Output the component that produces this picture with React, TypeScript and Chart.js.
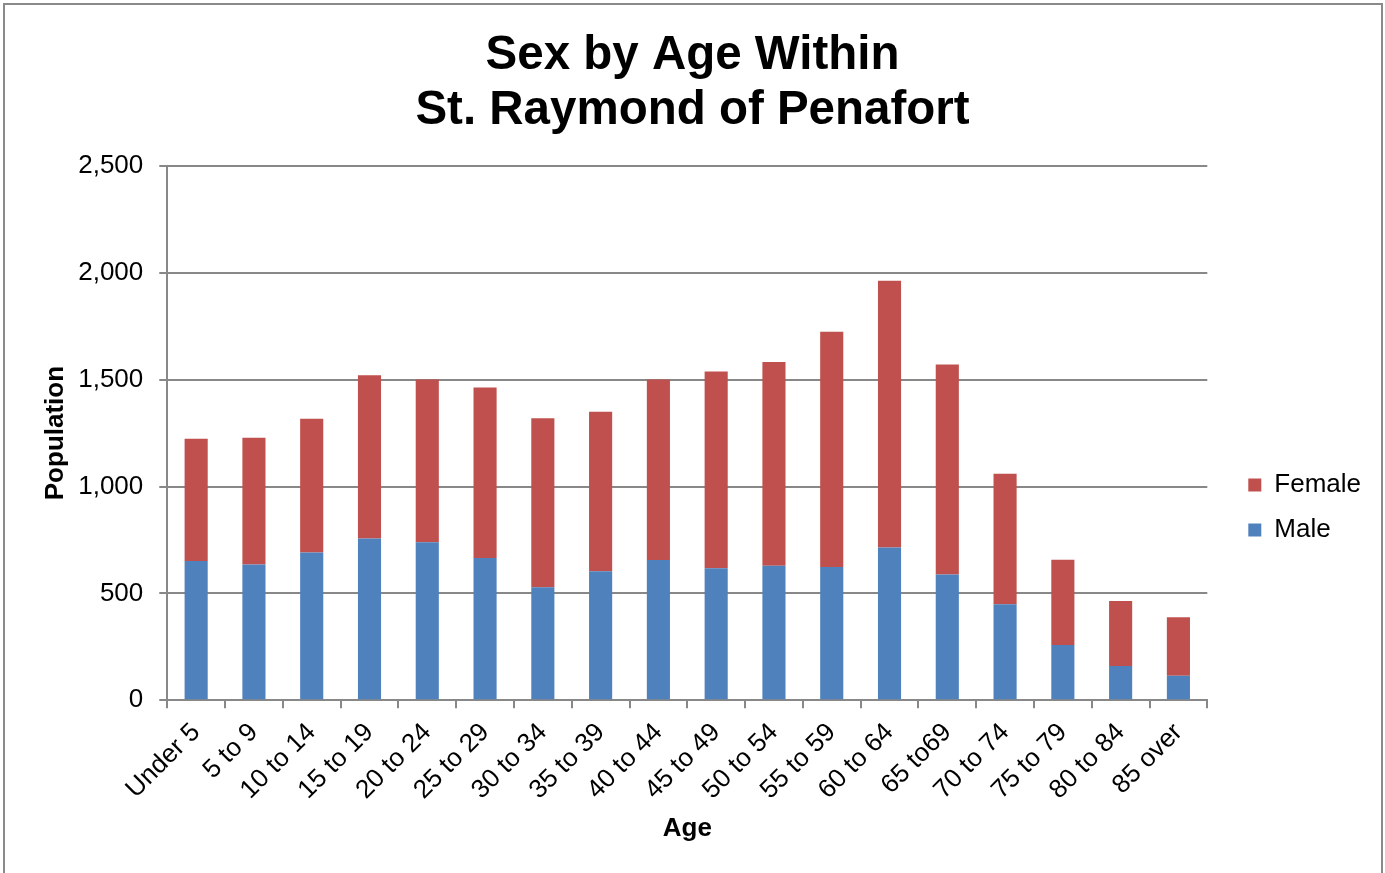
import React, { useEffect, useRef } from "react";
import { Chart, registerables } from "chart.js";

Chart.register(...registerables);

const categories = [
  "Under 5", "5 to 9", "10 to 14", "15 to 19", "20 to 24", "25 to 29",
  "30 to 34", "35 to 39", "40 to 44", "45 to 49", "50 to 54", "55 to 59",
  "60 to 64", "65 to69", "70 to 74", "75 to 79", "80 to 84", "85 over",
];
const maleValues = [651, 635, 691, 757, 739, 666, 529, 604, 656, 618, 629, 623, 715, 588, 449, 259, 160, 115];
const femaleValues = [572, 593, 626, 764, 762, 797, 790, 746, 845, 920, 953, 1101, 1247, 983, 611, 398, 304, 274];
const titleLines = ["Sex by Age Within", "St. Raymond of Penafort"];
const yTitle = "Population";
const xTitle = "Age";

const FONT = "'Liberation Sans', Arial, Helvetica, sans-serif";
const GRID = "#888888";

function spacer(width: number, weight: number) {
  return {
    type: "linear",
    position: "right",
    display: true,
    weight,
    grid: { display: false, drawTicks: false },
    border: { display: false },
    ticks: { display: false },
    title: { display: false },
    afterFit: (s: any) => {
      s.width = width;
    },
  } as any;
}

export default function App() {
  const canvasRef = useRef<HTMLCanvasElement | null>(null);

  useEffect(() => {
    if (!canvasRef.current) return;
    Chart.defaults.font.family = FONT;
    Chart.defaults.color = "#000";
    const chart = new Chart(canvasRef.current, {
      type: "bar",
      data: {
        labels: categories,
        datasets: [
          {
            label: "Male",
            data: maleValues,
            backgroundColor: "#4F81BD",
            borderWidth: 0,
            barPercentage: 0.4,
            categoryPercentage: 1,
          },
          {
            label: "Female",
            data: femaleValues,
            backgroundColor: "#C0504D",
            borderWidth: 0,
            barPercentage: 0.4,
            categoryPercentage: 1,
          },
        ],
      },
      options: {
        animation: false,
        responsive: false,
        layout: { padding: { left: 0, right: 0, top: 0, bottom: 0 } },
        plugins: {
          title: {
            display: true,
            text: titleLines,
            color: "#000",
            font: { size: 47.5, weight: "bold", family: FONT, lineHeight: 1.15 },
            padding: { top: 29, bottom: 27.6 },
          },
          legend: {
            display: true,
            position: "right",
            reverse: true,
            title: {
              display: true,
              text: " ",
              font: { size: 12, lineHeight: 1 },
              padding: { top: 130, bottom: 0 },
            },
            labels: {
              boxWidth: 13,
              boxHeight: 13,
              padding: 19,
              color: "#000",
              font: { size: 26, family: FONT },
            },
          },
          tooltip: { enabled: false },
        },
        scales: {
          x: {
            stacked: true,
            grid: {
              display: true,
              drawOnChartArea: false,
              drawTicks: true,
              tickLength: 8,
              color: GRID,
              lineWidth: 2,
            },
            border: { display: true, color: GRID, width: 2 },
            ticks: {
              autoSkip: false,
              minRotation: 45,
              maxRotation: 45,
              padding: 9,
              color: "#000",
              font: { size: 26, family: FONT },
            },
            title: {
              display: true,
              text: xTitle,
              color: "#000",
              font: { size: 26, weight: "bold", family: FONT, lineHeight: 1.2 },
              padding: { top: -2, bottom: 29 },
            },
          },
          y: {
            stacked: true,
            min: 0,
            max: 2500,
            ticks: {
              stepSize: 500,
              padding: 16,
              color: "#000",
              font: { size: 26, family: FONT },
            },
            grid: {
              color: GRID,
              lineWidth: 2,
              tickLength: 8,
              drawTicks: true,
            },
            border: { display: true, color: GRID, width: 2 },
            title: {
              display: true,
              text: yTitle,
              color: "#000",
              font: { size: 26, weight: "bold", family: FONT, lineHeight: 1.2 },
              padding: { top: 40, bottom: -9 },
            },
          },
          gap: spacer(22, 0),
          edge: spacer(14, 3000),
        },
      },
    });
    return () => chart.destroy();
  }, []);

  return (
    <div
      style={{
        position: "fixed",
        left: 0,
        top: 0,
        width: 1385,
        height: 873,
        overflow: "hidden",
        background: "#fff",
      }}
    >
      <canvas ref={canvasRef} width={1385} height={873} style={{ position: "absolute", left: 0, top: 0 }} />
      <div
        style={{
          position: "absolute",
          left: 3,
          top: 3,
          width: 1376,
          height: 1000,
          border: "2px solid #8a8a8a",
          pointerEvents: "none",
        }}
      />
    </div>
  );
}
